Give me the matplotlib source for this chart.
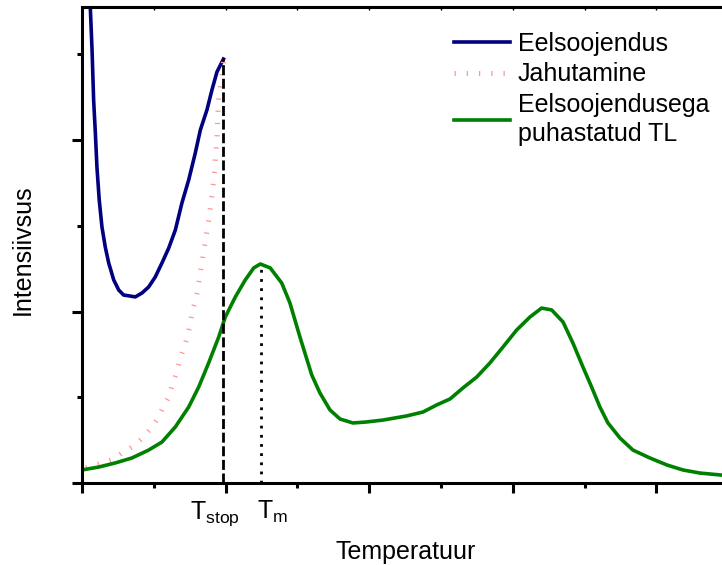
import matplotlib
matplotlib.use('Agg')
import matplotlib.pyplot as plt
from matplotlib.ticker import MultipleLocator, NullFormatter

plt.rcParams['font.family'] = ['Liberation Sans', 'DejaVu Sans']
plt.rcParams['mathtext.fontset'] = 'custom'
plt.rcParams['mathtext.rm'] = 'Liberation Sans'
plt.rcParams['mathtext.it'] = 'Liberation Sans'

# Eelsoojendus (preheating) curve
pre_t = [5.2, 5.8, 7.0, 8.1, 9.3, 10.4, 12.0, 13.9, 16.2, 18.6, 22.1, 25.6, 29.0, 33.6,
         37.1, 41.8, 46.4, 51.0, 55.7, 60.4, 65.0, 69.6, 74.3, 78.9, 82.4, 87.0, 90.5,
         94.0, 98.5]
pre_i = [2.93, 2.77, 2.525, 2.233, 2.041, 1.843, 1.650, 1.493, 1.376, 1.283, 1.184, 1.125,
         1.096, 1.090, 1.085, 1.108, 1.143, 1.201, 1.283, 1.370, 1.475, 1.633, 1.767,
         1.924, 2.058, 2.175, 2.292, 2.397, 2.472]

# Jahutamine (cooling) curve
cool_t = [98.5, 97.5, 96.3, 95.2, 94.5, 94.0, 93.5, 92.8, 92.4, 91.7, 91.0, 90.0, 89.1,
          88.2, 87.0, 85.9, 84.7, 83.6, 82.4, 81.3, 80.1, 78.5, 76.6, 75.4, 73.8, 71.9,
          69.2, 67.3, 65.0, 62.7, 60.4, 56.9, 53.4, 48.7, 43.0, 36.0, 27.9, 22.1, 15.1,
          8.1, 2.1]
cool_i = [2.455, 2.367, 2.309, 2.245, 2.128, 2.012, 1.948, 1.889, 1.831, 1.767, 1.708,
          1.650, 1.586, 1.528, 1.469, 1.411, 1.347, 1.289, 1.230, 1.166, 1.108, 1.050,
          0.991, 0.927, 0.869, 0.810, 0.746, 0.688, 0.624, 0.566, 0.501, 0.449, 0.385,
          0.327, 0.268, 0.216, 0.175, 0.140, 0.117, 0.105, 0.087]

# Eelsoojendusega puhastatud TL
tl_t = [0, 11.6, 23.2, 34.8, 46.4, 55.7, 65.0, 74.3, 81.3, 88.2, 95.2, 99.8, 106.8, 113.7,
        119.6, 124.2, 131.1, 139.1, 144.8, 151.8, 160.0, 165.7, 172.7, 179.7, 188.7, 198.3,
        209.6, 226.1, 237.5, 247.0, 256.3, 265.3, 274.9, 284.1, 293.2, 302.7, 312.0, 320.1,
        327.1, 335.0, 341.9, 348.9, 354.9, 360.7, 366.3, 374.7, 383.7, 395.5, 407.4, 418.5,
        430.4, 444.3, 452.0]
tl_i = [0.076, 0.093, 0.117, 0.146, 0.192, 0.239, 0.327, 0.443, 0.560, 0.700, 0.851, 0.968,
        1.085, 1.184, 1.254, 1.277, 1.254, 1.166, 1.050, 0.851, 0.630, 0.525, 0.426, 0.373,
        0.350, 0.356, 0.367, 0.391, 0.414, 0.455, 0.490, 0.554, 0.618, 0.700, 0.793, 0.892,
        0.968, 1.020, 1.009, 0.939, 0.816, 0.676, 0.560, 0.443, 0.350, 0.262, 0.192, 0.146,
        0.105, 0.076, 0.058, 0.047, 0.043]

t_stop = 98.5
t_stop_i = 2.47
t_m = 124.5
t_m_i = 1.277

fig = plt.figure(figsize=(7.22, 5.65), dpi=100)
ax = fig.add_axes([82 / 722, 82 / 565, 648 / 722, 476 / 565])

ax.plot(pre_t, pre_i, color='#000080', lw=2.6, label='Eelsoojendus')
ax.plot(cool_t, cool_i, color='#ff9494', lw=3.6, linestyle=(0, (0.25, 2.2)),
        label='Jahutamine')
ax.plot(tl_t, tl_i, color='#008000', lw=2.6, label='Eelsoojendusega\npuhastatud TL')
ax.plot([t_stop, t_stop], [0, t_stop_i], color='black', lw=2.0, linestyle=(0, (3.6, 1.3)))
ax.plot([t_m, t_m], [0, t_m_i], color='black', lw=2.0, linestyle=(0, (1, 2.3)))

ax.set_xlim(0, 451.3)
ax.set_ylim(0, 476 / 171.5)

for side in ['left', 'bottom', 'top', 'right']:
    ax.spines[side].set_linewidth(2.2)

ax.xaxis.set_major_locator(MultipleLocator(100))
ax.xaxis.set_minor_locator(MultipleLocator(50))
ax.yaxis.set_major_locator(MultipleLocator(1))
ax.yaxis.set_minor_locator(MultipleLocator(0.5))
ax.xaxis.set_major_formatter(NullFormatter())
ax.yaxis.set_major_formatter(NullFormatter())
ax.tick_params(which='major', direction='out', length=7, width=2.2)
ax.tick_params(which='minor', direction='out', length=3.5, width=2.2)

top = ax.secondary_xaxis('top')
top.xaxis.set_major_locator(MultipleLocator(50))
top.xaxis.set_major_formatter(NullFormatter())
top.tick_params(direction='in', length=2, width=1)

ax.text(92.3, -0.034, r'T$_{\mathrm{stop}}$', transform=ax.get_xaxis_transform(),
        ha='center', va='top', fontsize=18)
ax.text(133, -0.034, r'T$_{\mathrm{m}}$', transform=ax.get_xaxis_transform(),
        ha='center', va='top', fontsize=18)

ax.set_xlabel('Temperatuur', fontsize=18)
ax.xaxis.set_label_coords(0.5, -0.119)
ax.set_ylabel('Intensiivsus', fontsize=18, va='center')
ax.yaxis.set_label_coords(-0.091, 0.49)

leg = ax.legend(loc='upper left', bbox_to_anchor=(454 / 722, 1 - 32 / 565),
                bbox_transform=fig.transFigure, frameon=False, fontsize=18,
                borderpad=0, borderaxespad=0, handlelength=2.24, handletextpad=0.32,
                labelspacing=0.25)
leg.get_texts()[2].set_linespacing(1.3)

fig.savefig('out.png', dpi=100)
